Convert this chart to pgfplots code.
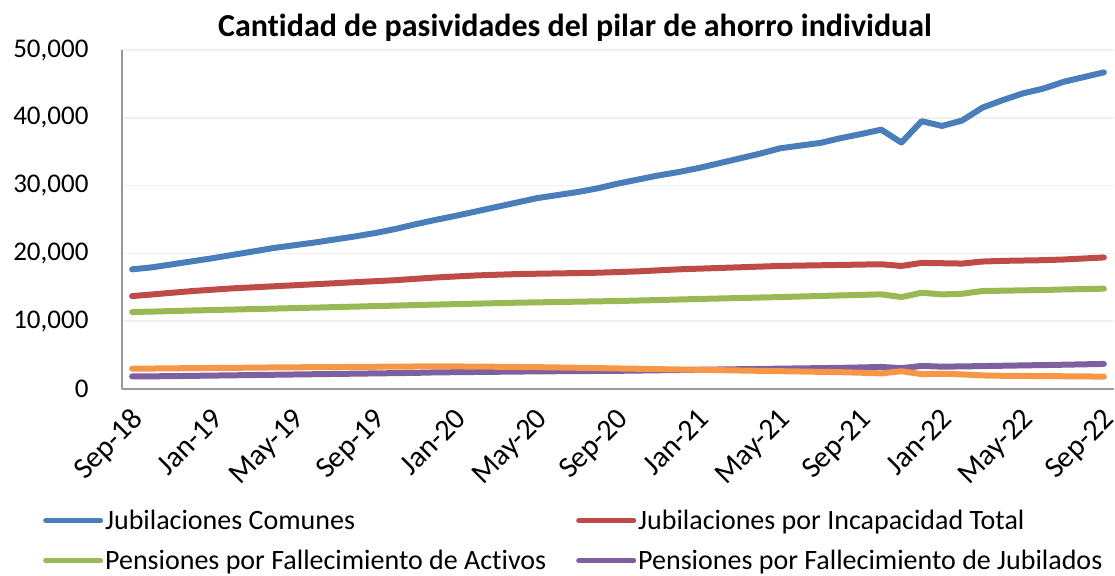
\documentclass[border=0pt]{standalone}
\usepackage{fontspec}
\setmainfont{Carlito}[Ligatures={NoCommon}]
\usepackage{pgfplots}
\pgfplotsset{compat=1.18}
\usepackage{pgfplotstable}
\definecolor{cblue}{HTML}{4A7EBB}
\definecolor{cred}{HTML}{BE4B48}
\definecolor{cgreen}{HTML}{98B954}
\definecolor{cpurple}{HTML}{7D60A0}
\definecolor{corange}{HTML}{F79646}
\pgfplotstableread{
i jc ji pa pj po
0 17650 13700 11350 1850 3000
1 17950 13950 11420 1870 3020
2 18400 14200 11500 1900 3050
3 18850 14450 11580 1940 3080
4 19300 14650 11650 1980 3100
5 19800 14850 11720 2020 3120
6 20300 15000 11790 2060 3150
7 20800 15150 11860 2100 3180
8 21200 15300 11930 2140 3200
9 21600 15450 12000 2180 3220
10 22050 15600 12080 2220 3240
11 22500 15750 12150 2260 3260
12 23000 15900 12230 2300 3280
13 23600 16050 12300 2340 3300
14 24300 16250 12380 2380 3320
15 24950 16450 12450 2450 3340
16 25550 16600 12520 2480 3330
17 26200 16750 12590 2510 3300
18 26850 16850 12660 2540 3280
19 27500 16950 12730 2570 3250
20 28150 17000 12780 2600 3220
21 28600 17050 12830 2620 3180
22 29050 17100 12880 2640 3130
23 29600 17150 12930 2660 3080
24 30300 17250 12980 2680 3030
25 30900 17350 13050 2720 2980
26 31500 17500 13120 2760 2930
27 32000 17650 13200 2800 2880
28 32600 17750 13280 2840 2830
29 33300 17850 13350 2880 2780
30 34000 17950 13420 2920 2730
31 34700 18050 13490 2960 2680
32 35500 18150 13560 3000 2630
33 35900 18200 13640 3040 2580
34 36300 18250 13720 3080 2530
35 37000 18300 13800 3120 2480
36 37600 18350 13880 3180 2400
37 38250 18400 13960 3250 2300
38 36350 18150 13560 3080 2620
39 39500 18600 14200 3400 2200
40 38800 18550 13950 3300 2250
41 39600 18500 14050 3330 2150
42 41500 18800 14450 3380 2000
43 42600 18900 14500 3430 1950
44 43600 18950 14550 3480 1930
45 44300 19000 14600 3530 1900
46 45300 19100 14680 3580 1880
47 46000 19250 14740 3640 1860
48 46700 19400 14800 3700 1820
}\datatable
\begin{document}
\begin{tikzpicture}
\useasboundingbox (-122pt,-186pt) rectangle (993pt,389pt);
\begin{axis}[
  scale only axis, width=992pt, height=339pt,
  at={(0pt,0pt)}, anchor=south west,
  xmin=-0.5, xmax=48.5, ymin=0, ymax=50000,
  xtick={0,4,...,48},
  xticklabels={Sep-18,Jan-19,May-19,Sep-19,Jan-20,May-20,Sep-20,Jan-21,May-21,Sep-21,Jan-22,May-22,Sep-22},
  ytick={0,10000,...,50000},
  scaled y ticks=false,
  /pgf/number format/fixed,
  /pgf/number format/1000 sep={,},
  /pgf/number format/assume math mode=true,
  y tick label style={font=\fontsize{27}{30}\selectfont, xshift=-30pt},
  x tick label style={font=\fontsize{30}{32}\selectfont, rotate=45, anchor=north east, yshift=-7.5pt, xshift=-10.5pt},
  major tick length=0pt,
  axis lines*=left,
  axis line style={draw=black!40, line width=1.5pt},
  ymajorgrids, grid style={draw=black!6, line width=1.5pt},
  legend columns=2,
  legend cell align=left,
  legend style={draw=none, fill=none, at={(-0.0827,-0.345)}, anchor=north west,
    font=\fontsize{28}{30}\selectfont, row sep=15pt,
    /tikz/every even column/.append style={column sep=28pt}},
  legend image code/.code={\draw[#1, line width=5pt, line cap=round] (0pt,0pt) -- (55pt,0pt);},
  every axis plot/.append style={line width=6pt, line cap=round, line join=round, mark=none},
]
\addplot[cblue] table[x=i,y=jc]{\datatable};
\addlegendentry{Jubilaciones Comunes}
\addplot[cred] table[x=i,y=ji]{\datatable};
\addlegendentry{Jubilaciones por Incapacidad Total}
\addplot[cgreen] table[x=i,y=pa]{\datatable};
\addlegendentry{Pensiones por Fallecimiento de Activos}
\addplot[cpurple] table[x=i,y=pj]{\datatable};
\addlegendentry{Pensiones por Fallecimiento de Jubilados}
\addplot[corange] table[x=i,y=po]{\datatable};
\end{axis}
\node[font=\bfseries\fontsize{32}{34}\selectfont, anchor=base] at (453pt,352pt) {Cantidad de pasividades del pilar de ahorro individual};
\end{tikzpicture}
\end{document}
